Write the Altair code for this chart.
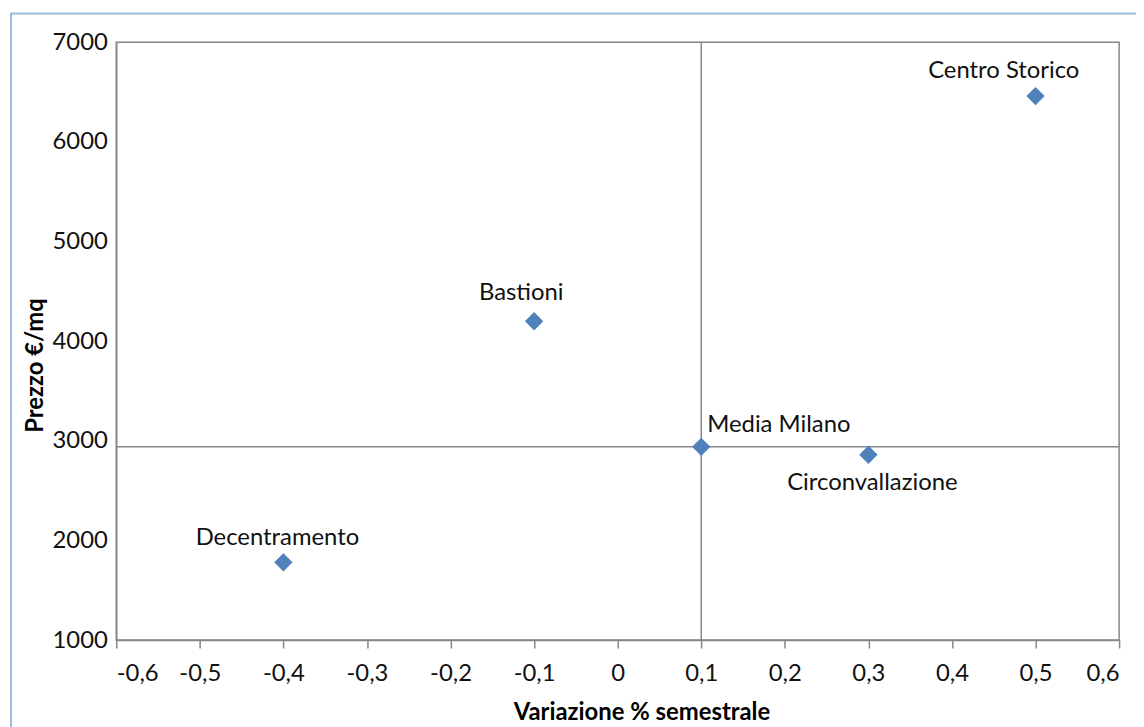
import altair as alt
import pandas as pd

# ---- data ----
zone = ["Centro Storico", "Bastioni", "Media Milano", "Circonvallazione", "Decentramento"]
variazione = [0.5, -0.1, 0.1, 0.3, -0.4]
prezzo = [6460, 4200, 2940, 2860, 1780]

x_ticks = [-0.6, -0.5, -0.4, -0.3, -0.2, -0.1, 0, 0.1, 0.2, 0.3, 0.4, 0.5, 0.6]
y_ticks = [1000, 2000, 3000, 4000, 5000, 6000, 7000]
media_nome = "Media Milano"

x_title = "Variazione % semestrale"
y_title = "Prezzo €/mq"

# label placement (style only): align, dx, dy
label_pos = {
    "Centro Storico": ("center", -32, -25),
    "Bastioni": ("center", -13, -28),
    "Media Milano": ("left", 6, -22),
    "Circonvallazione": ("center", 4, 28),
    "Decentramento": ("center", -6, -24),
}

df = pd.DataFrame({"zona": zone, "variazione": variazione, "prezzo": prezzo})

FONT = "Lato"
GRAY = "#868686"
BLUE = "#4F81BD"
FRAME = "#9BBBD9"

W, H = 1010, 602

x_enc = alt.X(
    "variazione:Q",
    scale=alt.Scale(domain=[-0.6, 0.6], nice=False, zero=False),
    axis=alt.Axis(
        values=x_ticks,
        labelExpr="replace(datum.value + '', '.', ',')",
        title=x_title,
        ticks=True,
        tickSize=8,
        labelPadding=14,
        titleX=529,
        titleY=73,
        titleBaseline="middle",
        titleAlign="center",
    ),
)
y_enc = alt.Y(
    "prezzo:Q",
    scale=alt.Scale(domain=[1000, 7000], nice=False, zero=False),
    axis=alt.Axis(
        values=y_ticks,
        format="d",
        title=y_title,
        ticks=False,
        labelPadding=9,
        titleX=-81,
        titleY=325,
        titleAngle=270,
        titleBaseline="middle",
        titleAlign="center",
    ),
)

frame = alt.Chart(pd.DataFrame({"k": [0]})).mark_rect(
    filled=False, stroke=FRAME, strokeWidth=2
).encode(
    x=alt.value(-106), x2=alt.value(W + 80), y=alt.value(-29), y2=alt.value(H + 150)
)

vrule = alt.Chart(df).transform_filter(alt.datum.zona == media_nome).mark_rule(
    color=GRAY, strokeWidth=1.5
).encode(x=x_enc)

hrule = alt.Chart(df).transform_filter(alt.datum.zona == media_nome).mark_rule(
    color=GRAY, strokeWidth=1.5
).encode(y=y_enc)

points = alt.Chart(df).mark_point(
    shape="diamond", filled=True, size=340, color=BLUE, opacity=1
).encode(x=x_enc, y=y_enc)

texts = []
for name in zone:
    align, dx, dy = label_pos[name]
    texts.append(
        alt.Chart(df)
        .transform_filter(alt.datum.zona == name)
        .mark_text(
            align=align, baseline="middle", dx=dx, dy=dy,
            font=FONT, fontSize=24, color="#111111"
        )
        .encode(x=x_enc, y=y_enc, text="zona:N")
    )

chart = (
    alt.layer(frame, vrule, hrule, points, *texts)
    .properties(
        width=W,
        height=H,
        autosize=alt.AutoSizeParams(type="none"),
        padding={"left": 109, "top": 32, "right": 17, "bottom": 85},
        background="white",
    )
    .configure_view(stroke=GRAY, strokeWidth=1.5)
    .configure_axis(
        grid=False,
        domainColor=GRAY,
        domainWidth=1.5,
        tickColor=GRAY,
        tickWidth=1.5,
        labelFont=FONT,
        labelFontSize=24,
        labelColor="#111111",
        titleFont=FONT,
        titleFontSize=24,
        titleFontWeight="bold",
        titleColor="#000000",
    )
)

chart.save("out.html", embed_options={"renderer": "svg", "actions": False})
